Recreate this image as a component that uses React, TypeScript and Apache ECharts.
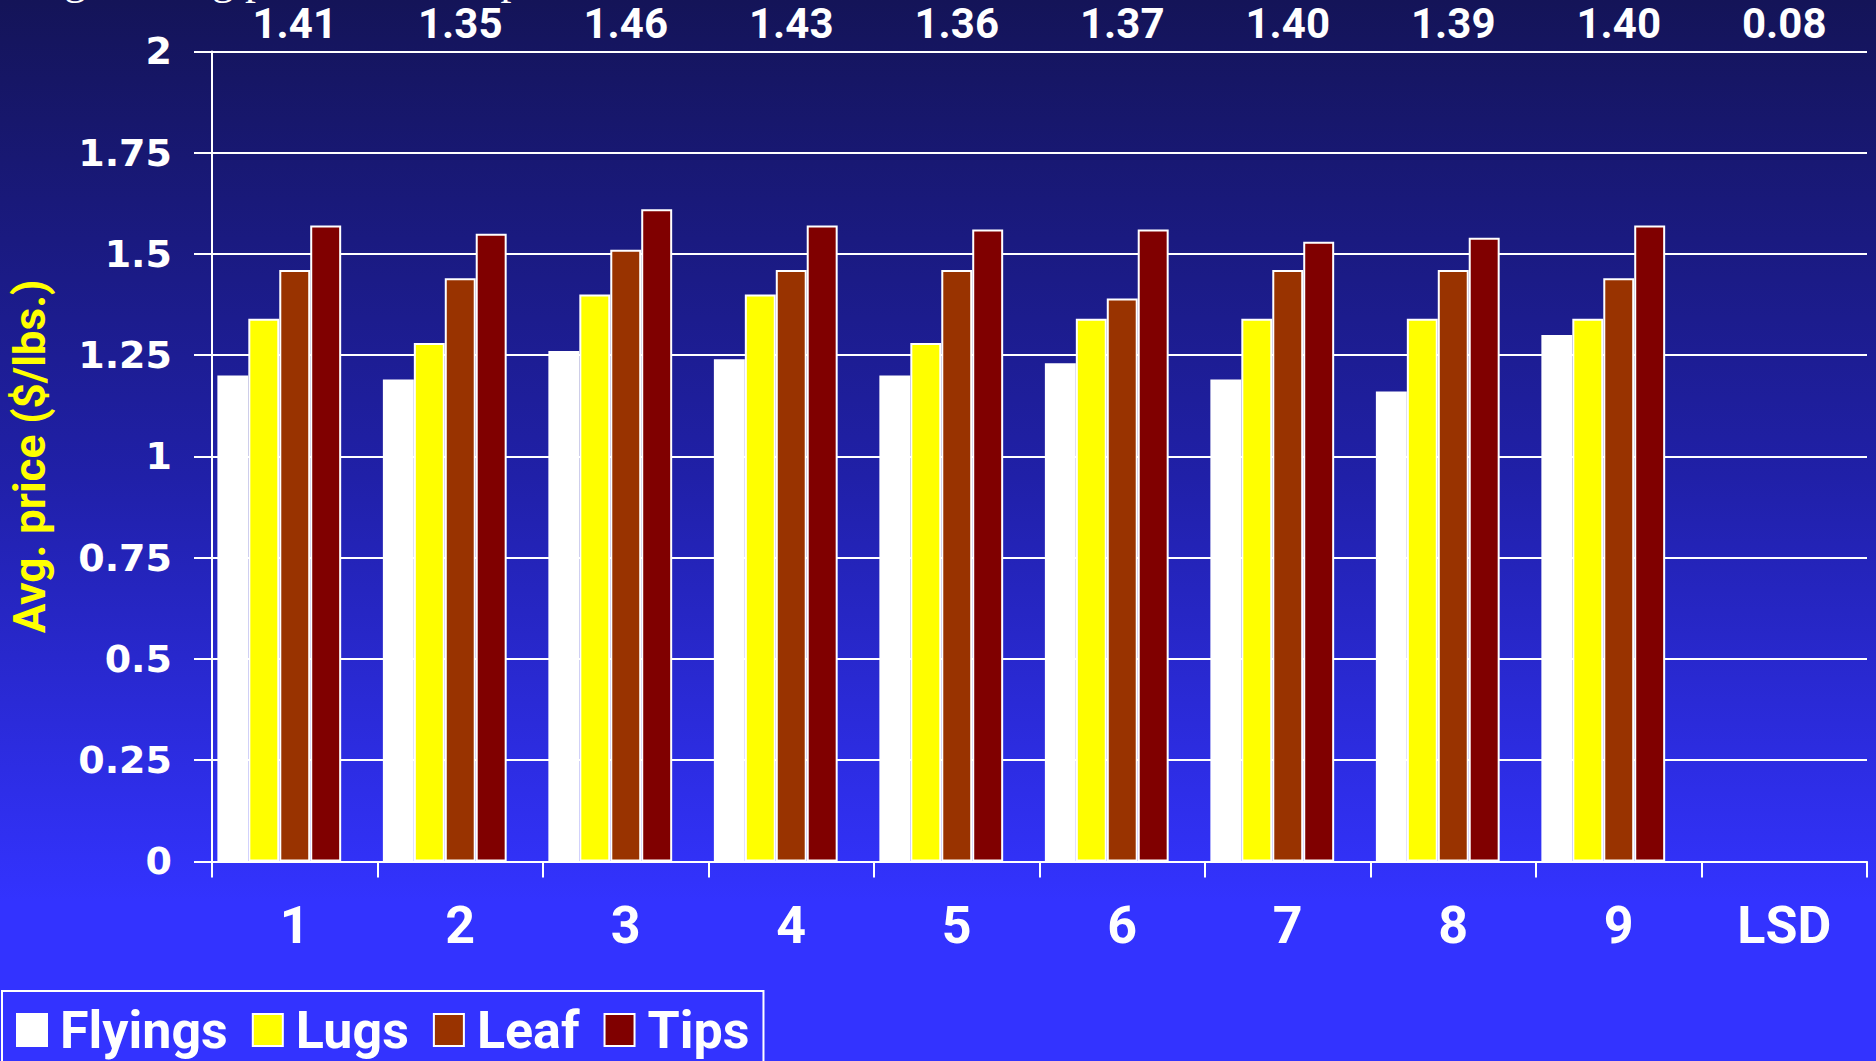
import React, { useEffect, useRef } from "react";
import * as echarts from "echarts";

const categories = ["1", "2", "3", "4", "5", "6", "7", "8", "9", "LSD"];
const meanLabels = ["1.41", "1.35", "1.46", "1.43", "1.36", "1.37", "1.40", "1.39", "1.40", "0.08"];
const flyings = [1.2, 1.19, 1.26, 1.24, 1.2, 1.23, 1.19, 1.16, 1.3, null];
const lugs = [1.34, 1.28, 1.4, 1.4, 1.28, 1.34, 1.34, 1.34, 1.34, null];
const leaf = [1.46, 1.44, 1.51, 1.46, 1.46, 1.39, 1.46, 1.46, 1.44, null];
const tips = [1.57, 1.55, 1.61, 1.57, 1.56, 1.56, 1.53, 1.54, 1.57, null];
const seriesNames = ["Flyings", "Lugs", "Leaf", "Tips"];
const colors = ["#FFFFFF", "#FFFF00", "#993300", "#800000"];
const titleText = "Average selling price for stalk position";

export default function App() {
  const ref = useRef<HTMLDivElement>(null);
  useEffect(() => {
    document.body.style.margin = "0";
    const chart = echarts.init(ref.current!, null, { renderer: "svg" });
    const values = [flyings, lugs, leaf, tips];
    const barSeries: any[] = values.map((d, i) => ({
      name: seriesNames[i],
      type: "bar",
      data: d,
      barGap: "0%",
      barCategoryGap: "6.5%",
      itemStyle: { color: colors[i], borderColor: "#FFFFFF", borderWidth: 2 },
      silent: true,
    }));
    barSeries.push({
      name: "spacer",
      type: "bar",
      data: categories.map(() => null),
      barGap: "0%",
      barCategoryGap: "6.5%",
      itemStyle: { color: "transparent" },
      silent: true,
    });
    chart.setOption({
      animation: false,
      graphic: [
        {
          type: "text",
          x: -40,
          y: -43,
          style: {
            text: titleText,
            font: '44px "Liberation Serif"',
            fill: "#FFFFFF",
          },
        },
      ],
      grid: { left: 209, right: 9, top: 51.4, bottom: 199.6, containLabel: false },
      legend: {
        data: seriesNames,
        left: 2,
        top: 991,
        orient: "horizontal",
        itemWidth: 30,
        itemHeight: 32,
        itemGap: 24,
        padding: [13, 14, 40, 14],
        borderColor: "#FFFFFF",
        borderWidth: 2,
        icon: "rect",
        textStyle: {
          color: "#FFFFFF",
          fontFamily: "Roboto",
          fontWeight: "bold",
          fontSize: 52,
          lineHeight: 34,
          padding: [0, 0, 0, 8],
        },
        selectedMode: false,
      },
      xAxis: [
        {
          type: "category",
          data: categories,
          position: "bottom",
          axisLine: { lineStyle: { color: "#FFFFFF", width: 2 } },
          axisTick: { show: true, length: 16, interval: 0, lineStyle: { color: "#FFFFFF", width: 2 } },
          axisLabel: {
            color: "#FFFFFF",
            fontFamily: "Roboto",
            fontWeight: "bold",
            fontSize: 52,
            margin: 38,
            interval: 0,
          },
        },
        {
          type: "category",
          data: meanLabels,
          position: "top",
          axisLine: { show: false },
          axisTick: { show: false },
          axisLabel: {
            color: "#FFFFFF",
            fontFamily: "Roboto",
            fontWeight: "bold",
            fontSize: 42,
            lineHeight: 40,
            margin: 8,
            interval: 0,
          },
        },
      ],
      yAxis: {
        type: "value",
        min: 0,
        max: 2,
        interval: 0.25,
        name: "Avg. price ($/lbs.)",
        nameLocation: "middle",
        nameGap: 160,
        nameTextStyle: {
          color: "#FFFF00",
          fontFamily: "Roboto",
          fontWeight: "bold",
          fontSize: 44,
        },
        axisLine: { show: true, lineStyle: { color: "#FFFFFF", width: 2 } },
        axisTick: { show: true, length: 18, lineStyle: { color: "#FFFFFF", width: 2 } },
        splitLine: { lineStyle: { color: "#FFFFFF", width: 2 } },
        axisLabel: {
          color: "#FFFFFF",
          fontFamily: "DejaVu Sans",
          fontWeight: "bold",
          fontSize: 38,
          margin: 40,
        },
      },
      series: barSeries,
    });
    return () => chart.dispose();
  }, []);
  return (
    <div
      ref={ref}
      style={{
        position: "absolute",
        left: 0,
        top: 0,
        width: 1876,
        height: 1061,
        overflow: "hidden",
        background: "linear-gradient(to bottom, #141458 0%, #2020A8 45%, #3333FF 85%, #3333FF 100%)",
      }}
    />
  );
}
